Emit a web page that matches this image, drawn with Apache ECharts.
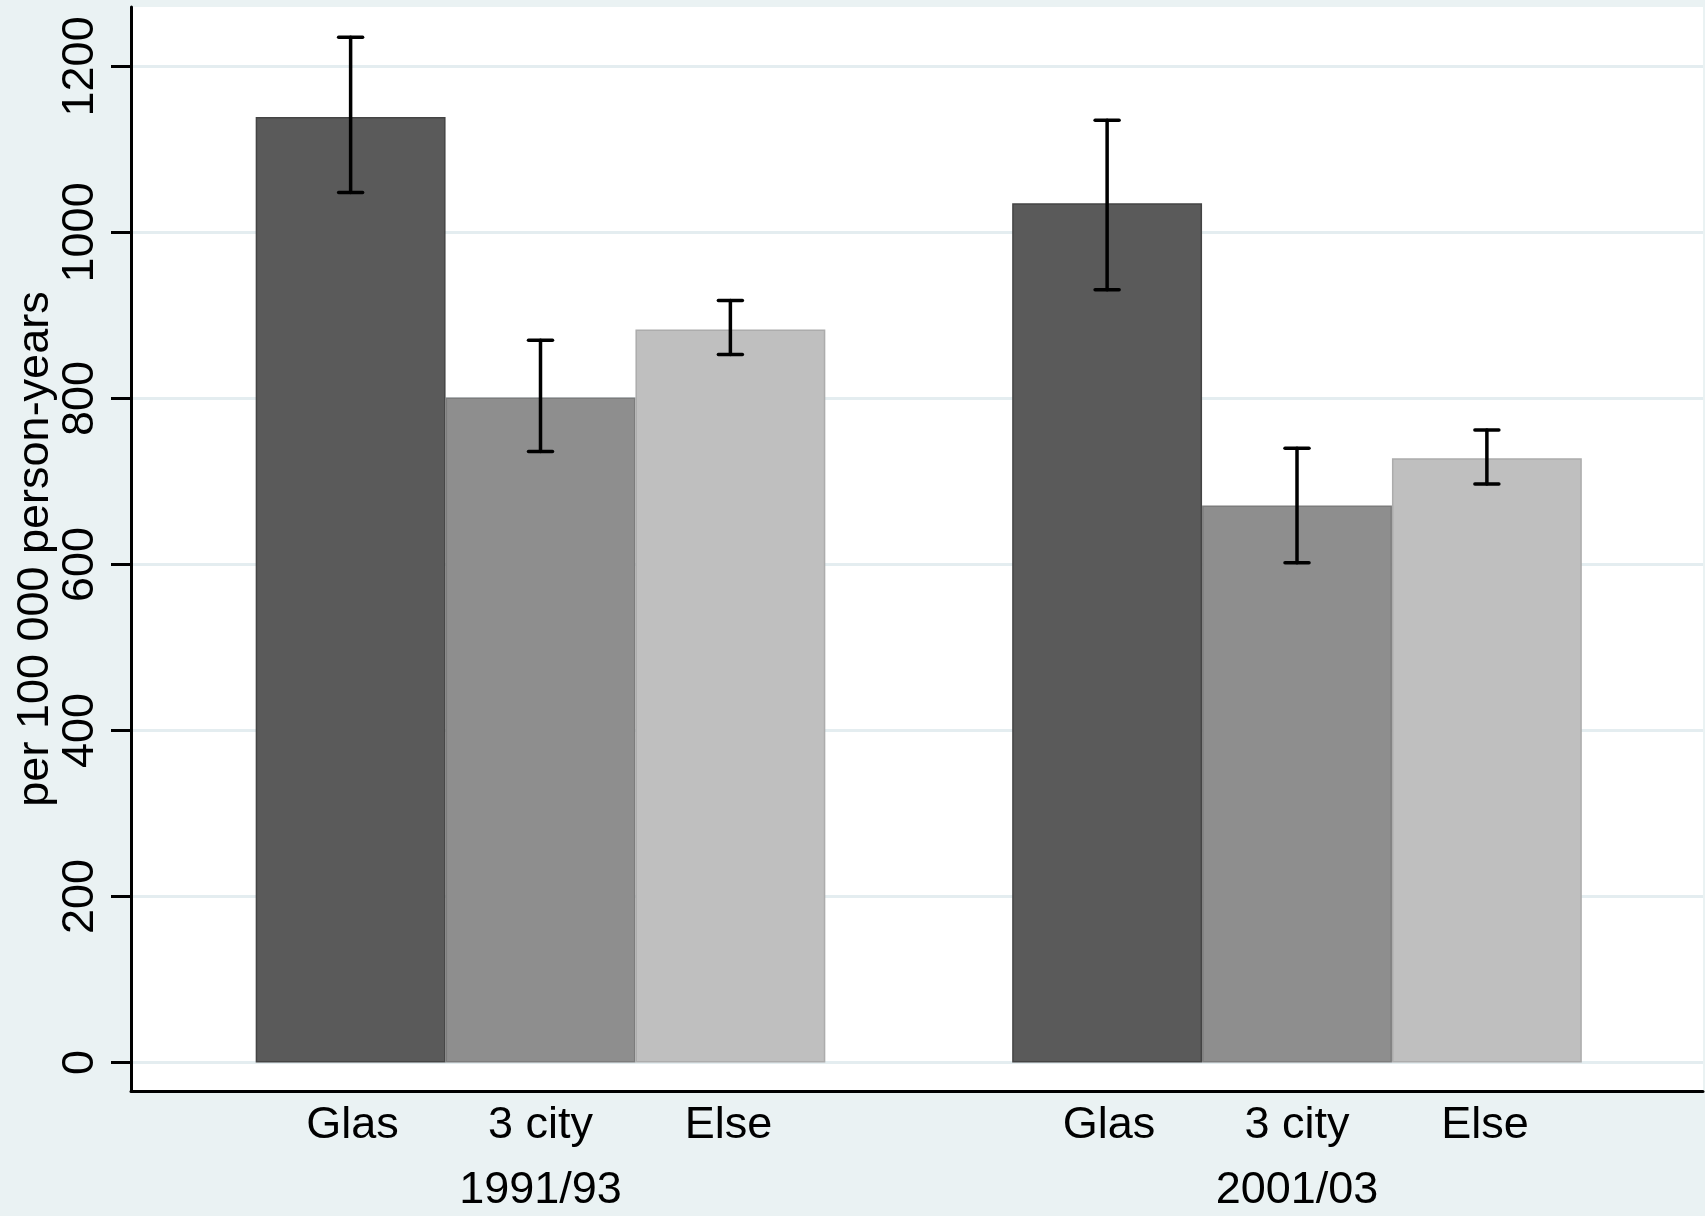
<!DOCTYPE html>
<html>
<head>
<meta charset="utf-8">
<script src="https://cdn.jsdelivr.net/npm/echarts@6/dist/echarts.min.js"></script>
<style>
  html, body { margin: 0; padding: 0; background: #eaf2f3; }
  #chart { width: 1705px; height: 1216px; }
</style>
</head>
<body>
<div id="chart"></div>
<script>
// ---- data ----
const categories = ['1991/93', '2001/03'];
const subLabels = ['Glas', '3 city', 'Else'];
const glasValues = [1139, 1035];
const cityValues = [801, 671];
const elseValues = [883, 728];
const glasLow = [1048, 931];
const glasHigh = [1235, 1135];
const cityLow = [736, 602];
const cityHigh = [870, 740];
const elseLow = [853, 697];
const elseHigh = [918, 762];
const yTicks = [0, 200, 400, 600, 800, 1000, 1200];
const yTitle = 'per 100 000 person-years';

// ---- style ----
const FONT = 'Liberation Sans, Arial, sans-serif';
const BAR_FRAC = 0.251;
const barColors = ['#5a5a5a', '#8e8e8e', '#bfbfbf'];
const barBorders = ['#444444', '#7c7c7c', '#acacac'];

const seriesValues = [glasValues, cityValues, elseValues];
const lows = [glasLow, cityLow, elseLow];
const highs = [glasHigh, cityHigh, elseHigh];

const errData = [];
for (let s = 0; s < 3; s++) {
  for (let i = 0; i < categories.length; i++) {
    errData.push([i, lows[s][i], highs[s][i], s]);
  }
}

const chart = echarts.init(document.getElementById('chart'));

const option = {
  backgroundColor: '#eaf2f3',
  animation: false,
  grid: [
    // frame grid (white plot region + axis lines)
    { left: 131, right: 2, top: 7, bottom: 125, show: true, backgroundColor: '#ffffff', borderWidth: 0, outerBoundsMode: 'none' },
    // ticks / gridlines grid
    { left: 131, right: 2, top: 66.4, bottom: 153.6, outerBoundsMode: 'none' },
    // bars grid
    { left: 162.25, right: 29.75, top: 66.4, bottom: 153.6, outerBoundsMode: 'none' }
  ],
  xAxis: [
    { gridIndex: 0, type: 'value', min: 0, max: 1, position: 'bottom',
      axisLine: { show: true, onZero: false, lineStyle: { color: '#000', width: 3 } },
      axisTick: { show: false }, axisLabel: { show: false }, splitLine: { show: false } },
    { gridIndex: 1, type: 'category', data: categories, show: false },
    { gridIndex: 2, type: 'category', data: categories,
      axisLine: { show: false }, axisTick: { show: false }, splitLine: { show: false },
      axisLabel: {
        interval: 0, margin: 31, color: '#000', fontFamily: FONT, fontSize: 45,
        formatter: function (v) {
          return subLabels.map(function (t) { return '{a|' + t + '}'; }).join('') + '\n{g|' + v + '}';
        },
        rich: {
          a: { width: 188, align: 'center', fontSize: 45, fontFamily: FONT, color: '#000', lineHeight: 65 },
          g: { width: 564, align: 'center', fontSize: 45, fontFamily: FONT, color: '#000', lineHeight: 65 }
        }
      } }
  ],
  yAxis: [
    { gridIndex: 0, type: 'value', min: 0, max: 1,
      name: yTitle, nameLocation: 'middle', nameGap: 73,
      nameTextStyle: { fontFamily: FONT, fontSize: 45, color: '#000' },
      axisLine: { show: true, onZero: false, lineStyle: { color: '#000', width: 3 } },
      axisTick: { show: false }, axisLabel: { show: false }, splitLine: { show: false } },
    { gridIndex: 1, type: 'value', min: yTicks[0], max: yTicks[yTicks.length - 1], interval: 200,
      axisLine: { show: false },
      axisTick: { show: true, length: 20, lineStyle: { color: '#000', width: 3 } },
      axisLabel: { rotate: 90, margin: 28, fontFamily: FONT, fontSize: 45, color: '#000',
        formatter: function (v) { return String(v); } },
      splitLine: { show: true, lineStyle: { color: '#e4edf0', width: 3 } } },
    { gridIndex: 2, type: 'value', min: yTicks[0], max: yTicks[yTicks.length - 1], interval: 200, show: false }
  ],
  series: [0, 1, 2].map(function (s) {
    return {
      type: 'bar', name: subLabels[s], xAxisIndex: 2, yAxisIndex: 2,
      data: seriesValues[s], barWidth: (BAR_FRAC * 100) + '%', barGap: '0%',
      itemStyle: { color: barColors[s], borderColor: barBorders[s], borderWidth: 1.5 },
      z: 2
    };
  }).concat([{
    type: 'custom', xAxisIndex: 2, yAxisIndex: 2, z: 5,
    data: errData,
    renderItem: function (params, api) {
      const ci = api.value(0), lo = api.value(1), hi = api.value(2), s = api.value(3);
      const band = api.size([1, 0])[0];
      const bw = band * BAR_FRAC;
      const pLo = api.coord([ci, lo]);
      const pHi = api.coord([ci, hi]);
      const x = pLo[0] + (s - 1) * bw;
      const half = 12;
      const st = { stroke: '#000', lineWidth: 3.5, lineCap: 'round' };
      return {
        type: 'group',
        children: [
          { type: 'line', shape: { x1: x, y1: pLo[1], x2: x, y2: pHi[1] }, style: st },
          { type: 'line', shape: { x1: x - half, y1: pLo[1], x2: x + half, y2: pLo[1] }, style: st },
          { type: 'line', shape: { x1: x - half, y1: pHi[1], x2: x + half, y2: pHi[1] }, style: st }
        ]
      };
    }
  }])
};

chart.setOption(option);
</script>
</body>
</html>
